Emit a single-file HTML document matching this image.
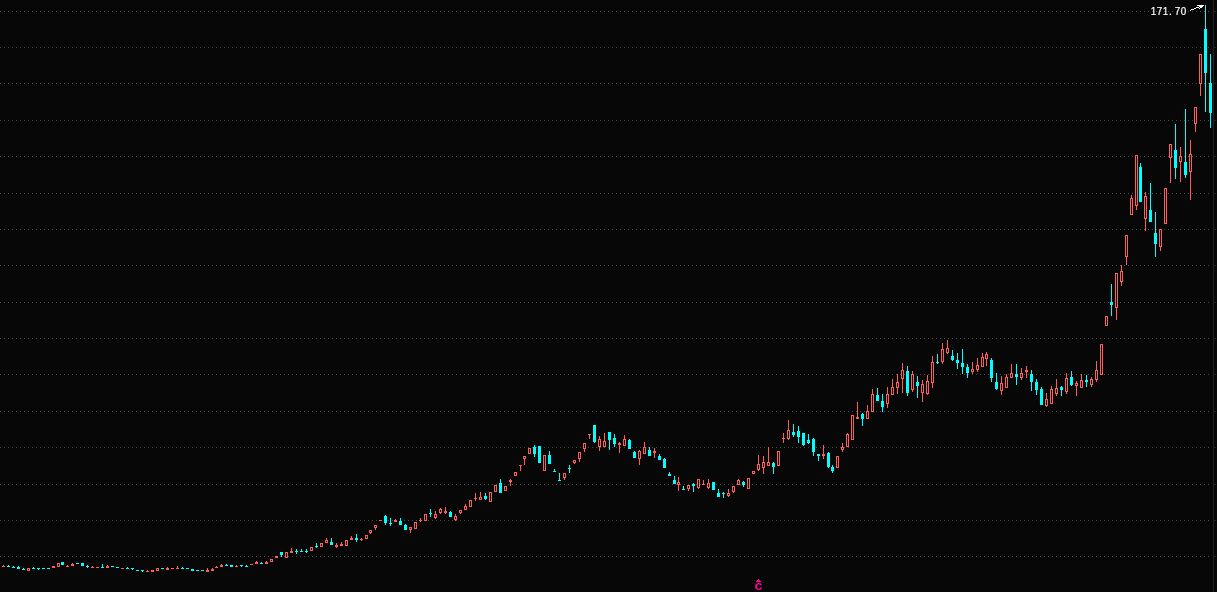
<!DOCTYPE html>
<html lang="zh-CN">
<head>
<meta charset="utf-8">
<title>K线图</title>
<style>
html,body{margin:0;padding:0;background:#070707;}
body{width:1217px;height:592px;overflow:hidden;position:relative;font-family:"Liberation Mono","Noto Sans CJK SC",monospace;}
#chart{position:absolute;left:0;top:0;width:1217px;height:592px;display:block;}
.grid line{stroke:#4c4c4c;stroke-width:1;stroke-dasharray:1 3;}
.up path{fill:#ff5c5c;}
.down path{fill:#00ffff;}
.hi-label{font-family:"Liberation Sans","Noto Sans CJK SC",sans-serif;font-size:11px;fill:#ffffff;stroke:#ffffff;stroke-width:0.2px;}
.mark{font-family:"Liberation Mono",monospace;font-weight:bold;font-size:11px;fill:#ff009c;}
</style>
</head>
<body>
<svg id="chart" width="1217" height="592" viewBox="0 0 1217 592" shape-rendering="crispEdges">
<rect width="1217" height="592" fill="#070707"/>
<g class="grid">
<line x1="0" y1="11.5" x2="1209" y2="11.5"/>
<line x1="0" y1="47.5" x2="1209" y2="47.5"/>
<line x1="0" y1="83.5" x2="1209" y2="83.5"/>
<line x1="0" y1="120.5" x2="1209" y2="120.5"/>
<line x1="0" y1="156.5" x2="1209" y2="156.5"/>
<line x1="0" y1="193.5" x2="1209" y2="193.5"/>
<line x1="0" y1="229.5" x2="1209" y2="229.5"/>
<line x1="0" y1="265.5" x2="1209" y2="265.5"/>
<line x1="0" y1="302.5" x2="1209" y2="302.5"/>
<line x1="0" y1="338.5" x2="1209" y2="338.5"/>
<line x1="0" y1="374.5" x2="1209" y2="374.5"/>
<line x1="0" y1="411.5" x2="1209" y2="411.5"/>
<line x1="0" y1="447.5" x2="1209" y2="447.5"/>
<line x1="0" y1="484.5" x2="1209" y2="484.5"/>
<line x1="0" y1="520.5" x2="1209" y2="520.5"/>
<line x1="0" y1="556.5" x2="1209" y2="556.5"/>
</g>
<g class="axis"><rect x="1213" y="0" width="1" height="592" fill="#222222"/>
<rect x="1214" y="11" width="2" height="1" fill="#222222"/>
<rect x="1214" y="47" width="2" height="1" fill="#222222"/>
<rect x="1214" y="83" width="2" height="1" fill="#222222"/>
<rect x="1214" y="120" width="2" height="1" fill="#222222"/>
<rect x="1214" y="156" width="2" height="1" fill="#222222"/>
<rect x="1214" y="193" width="2" height="1" fill="#222222"/>
<rect x="1214" y="229" width="2" height="1" fill="#222222"/>
<rect x="1214" y="265" width="2" height="1" fill="#222222"/>
<rect x="1214" y="302" width="2" height="1" fill="#222222"/>
<rect x="1214" y="338" width="2" height="1" fill="#222222"/>
<rect x="1214" y="374" width="2" height="1" fill="#222222"/>
<rect x="1214" y="411" width="2" height="1" fill="#222222"/>
<rect x="1214" y="447" width="2" height="1" fill="#222222"/>
<rect x="1214" y="484" width="2" height="1" fill="#222222"/>
<rect x="1214" y="520" width="2" height="1" fill="#222222"/>
<rect x="1214" y="556" width="2" height="1" fill="#222222"/>
</g>
<path class="hollow" fill="#070707" d="M28 569h1v1h-1zM58 564h1v2h-1zM157 569h1v1h-1zM271 560h1v1h-1zM286 553h1v4h-1zM311 548h1v2h-1zM321 544h1v2h-1zM326 541h1v1h-1zM346 541h1v4h-1zM366 536h1v2h-1zM370 531h1v1h-1zM375 526h1v1h-1zM410 528h1v1h-1zM415 523h1v5h-1zM425 515h1v5h-1zM435 515h1v2h-1zM440 510h1v2h-1zM455 517h1v2h-1zM460 511h1v1h-1zM465 507h1v2h-1zM470 501h1v5h-1zM480 498h1v1h-1zM490 493h1v8h-1zM495 486h1v5h-1zM505 487h1v3h-1zM515 473h1v2h-1zM524 457h1v1h-1zM529 449h1v4h-1zM544 456h1v14h-1zM564 474h1v3h-1zM574 461h1v1h-1zM579 453h1v5h-1zM584 444h1v4h-1zM599 440h1v6h-1zM604 442h1v4h-1zM624 440h1v5h-1zM639 452h1v6h-1zM644 448h1v5h-1zM678 483h1v1h-1zM688 486h1v2h-1zM698 480h1v7h-1zM708 484h1v3h-1zM728 494h1v1h-1zM733 487h1v4h-1zM738 481h1v3h-1zM748 479h1v9h-1zM753 472h1v1h-1zM758 465h1v4h-1zM763 463h1v4h-1zM768 463h1v2h-1zM778 452h1v13h-1zM788 431h1v7h-1zM837 457h1v10h-1zM842 448h1v1h-1zM847 435h1v11h-1zM852 416h1v23h-1zM867 412h1v6h-1zM872 395h1v16h-1zM887 395h1v8h-1zM892 388h1v6h-1zM897 383h1v4h-1zM902 371h1v7h-1zM912 375h1v14h-1zM922 385h1v7h-1zM927 382h1v11h-1zM932 363h1v19h-1zM942 350h1v11h-1zM947 349h1v3h-1zM972 370h1v1h-1zM977 366h1v3h-1zM982 358h1v8h-1zM986 355h1v3h-1zM1001 384h1v6h-1zM1006 378h1v9h-1zM1011 374h1v3h-1zM1021 374h1v3h-1zM1046 400h1v5h-1zM1051 390h1v13h-1zM1056 389h1v4h-1zM1066 379h1v12h-1zM1076 384h1v1h-1zM1081 381h1v6h-1zM1091 380h1v4h-1zM1096 371h1v8h-1zM1101 345h1v29h-1zM1106 317h1v8h-1zM1116 274h1v33h-1zM1121 272h1v9h-1zM1126 236h1v20h-1zM1131 199h1v15h-1zM1136 156h1v49h-1zM1145 197h1v21h-1zM1160 230h1v16h-1zM1165 189h1v34h-1zM1170 145h1v12h-1zM1180 157h1v4h-1zM1190 155h1v16h-1zM1195 108h1v15h-1zM1200 55h1v28h-1z"/>
<g class="up">
<path d="M3 565h1v1h-1zM2 566h3v1h-3z"/>
<path d="M27 568h3v1h-3zM27 570h3v1h-3zM27 569h1v1h-1zM29 569h1v1h-1z"/>
<path d="M52 566h3v2h-3z"/>
<path d="M57 563h3v1h-3zM57 566h3v1h-3zM57 564h1v2h-1zM59 564h1v2h-1z"/>
<path d="M67 565h1v1h-1zM66 566h3v1h-3z"/>
<path d="M72 563h1v1h-1zM71 564h3v2h-3z"/>
<path d="M92 566h1v1h-1zM91 567h3v1h-3z"/>
<path d="M96 567h3v1h-3z"/>
<path d="M107 565h1v1h-1zM106 566h3v2h-3z"/>
<path d="M121 568h3v1h-3z"/>
<path d="M147 570h1v1h-1zM146 571h3v1h-3z"/>
<path d="M151 570h3v2h-3z"/>
<path d="M156 568h3v1h-3zM156 570h3v1h-3zM156 569h1v1h-1zM158 569h1v1h-1z"/>
<path d="M167 567h1v1h-1zM166 568h3v2h-3z"/>
<path d="M171 568h3v1h-3z"/>
<path d="M177 566h1v2h-1zM176 568h3v1h-3z"/>
<path d="M207 568h1v2h-1zM206 570h3v2h-3z"/>
<path d="M212 568h1v1h-1zM211 569h3v2h-3z"/>
<path d="M216 566h1v1h-1zM215 567h3v1h-3z"/>
<path d="M221 564h1v1h-1zM220 565h3v2h-3z"/>
<path d="M236 565h1v1h-1zM235 566h3v1h-3z"/>
<path d="M250 564h3v1h-3z"/>
<path d="M256 561h1v1h-1zM255 562h3v2h-3z"/>
<path d="M266 561h1v1h-1zM265 562h3v2h-3z"/>
<path d="M270 559h3v1h-3zM270 561h3v1h-3zM270 560h1v1h-1zM272 560h1v1h-1z"/>
<path d="M275 556h3v2h-3z"/>
<path d="M285 552h3v1h-3zM285 557h3v1h-3zM285 553h1v4h-1zM287 553h1v4h-1z"/>
<path d="M291 548h1v3h-1zM290 551h3v2h-3z"/>
<path d="M310 547h3v1h-3zM310 550h3v1h-3zM310 548h1v2h-1zM312 548h1v2h-1z"/>
<path d="M320 543h3v1h-3zM320 546h3v1h-3zM320 544h1v2h-1zM322 544h1v2h-1z"/>
<path d="M326 538h1v2h-1zM325 540h3v1h-3zM325 542h3v1h-3zM325 541h1v1h-1zM327 541h1v1h-1z"/>
<path d="M336 543h1v2h-1zM336 547h1v1h-1zM335 545h3v2h-3z"/>
<path d="M341 542h1v2h-1zM340 544h3v2h-3z"/>
<path d="M345 540h3v1h-3zM345 545h3v1h-3zM345 541h1v4h-1zM347 541h1v4h-1z"/>
<path d="M351 536h1v2h-1zM350 538h3v2h-3z"/>
<path d="M361 538h1v1h-1zM361 540h1v1h-1zM360 539h3v1h-3z"/>
<path d="M365 535h3v1h-3zM365 538h3v1h-3zM365 536h1v2h-1zM367 536h1v2h-1z"/>
<path d="M370 533h1v1h-1zM369 530h3v1h-3zM369 532h3v1h-3zM369 531h1v1h-1zM371 531h1v1h-1z"/>
<path d="M375 528h1v2h-1zM374 525h3v1h-3zM374 527h3v1h-3zM374 526h1v1h-1zM376 526h1v1h-1z"/>
<path d="M379 520h3v1h-3z"/>
<path d="M395 519h1v1h-1zM394 520h3v2h-3z"/>
<path d="M410 530h1v3h-1zM409 527h3v1h-3zM409 529h3v1h-3zM409 528h1v1h-1zM411 528h1v1h-1z"/>
<path d="M414 522h3v1h-3zM414 528h3v1h-3zM414 523h1v5h-1zM416 523h1v5h-1z"/>
<path d="M420 518h1v2h-1zM420 521h1v1h-1zM419 520h3v1h-3z"/>
<path d="M424 514h3v1h-3zM424 520h3v1h-3zM424 515h1v5h-1zM426 515h1v5h-1z"/>
<path d="M435 511h1v3h-1zM435 518h1v1h-1zM434 514h3v1h-3zM434 517h3v1h-3zM434 515h1v2h-1zM436 515h1v2h-1z"/>
<path d="M440 508h1v1h-1zM440 513h1v1h-1zM439 509h3v1h-3zM439 512h3v1h-3zM439 510h1v2h-1zM441 510h1v2h-1z"/>
<path d="M445 507h1v4h-1zM445 513h1v1h-1zM444 511h3v2h-3z"/>
<path d="M455 514h1v2h-1zM455 520h1v1h-1zM454 516h3v1h-3zM454 519h3v1h-3zM454 517h1v2h-1zM456 517h1v2h-1z"/>
<path d="M460 513h1v1h-1zM459 510h3v1h-3zM459 512h3v1h-3zM459 511h1v1h-1zM461 511h1v1h-1z"/>
<path d="M465 504h1v2h-1zM464 506h3v1h-3zM464 509h3v1h-3zM464 507h1v2h-1zM466 507h1v2h-1z"/>
<path d="M469 500h3v1h-3zM469 506h3v1h-3zM469 501h1v5h-1zM471 501h1v5h-1z"/>
<path d="M475 493h1v5h-1zM475 499h1v2h-1zM474 498h3v1h-3z"/>
<path d="M480 492h1v5h-1zM479 497h3v1h-3zM479 499h3v1h-3zM479 498h1v1h-1zM481 498h1v1h-1z"/>
<path d="M489 492h3v1h-3zM489 501h3v1h-3zM489 493h1v8h-1zM491 493h1v8h-1z"/>
<path d="M494 485h3v1h-3zM494 491h3v1h-3zM494 486h1v5h-1zM496 486h1v5h-1z"/>
<path d="M504 486h3v1h-3zM504 490h3v1h-3zM504 487h1v3h-1zM506 487h1v3h-1z"/>
<path d="M510 479h1v1h-1zM510 482h1v4h-1zM509 480h3v2h-3z"/>
<path d="M514 472h3v1h-3zM514 475h3v1h-3zM514 473h1v2h-1zM516 473h1v2h-1z"/>
<path d="M520 466h1v5h-1zM519 465h3v1h-3z"/>
<path d="M524 459h1v6h-1zM523 456h3v1h-3zM523 458h3v1h-3zM523 457h1v1h-1zM525 457h1v1h-1z"/>
<path d="M528 448h3v1h-3zM528 453h3v1h-3zM528 449h1v4h-1zM530 449h1v4h-1z"/>
<path d="M543 455h3v1h-3zM543 470h3v1h-3zM543 456h1v14h-1zM545 456h1v14h-1z"/>
<path d="M564 478h1v2h-1zM563 473h3v1h-3zM563 477h3v1h-3zM563 474h1v3h-1zM565 474h1v3h-1z"/>
<path d="M574 463h1v1h-1zM573 460h3v1h-3zM573 462h3v1h-3zM573 461h1v1h-1zM575 461h1v1h-1z"/>
<path d="M579 459h1v3h-1zM578 452h3v1h-3zM578 458h3v1h-3zM578 453h1v5h-1zM580 453h1v5h-1z"/>
<path d="M584 449h1v3h-1zM583 443h3v1h-3zM583 448h3v1h-3zM583 444h1v4h-1zM585 444h1v4h-1z"/>
<path d="M589 435h1v4h-1zM588 434h3v1h-3z"/>
<path d="M599 436h1v3h-1zM599 447h1v4h-1zM598 439h3v1h-3zM598 446h3v1h-3zM598 440h1v6h-1zM600 440h1v6h-1z"/>
<path d="M604 433h1v8h-1zM603 441h3v1h-3zM603 446h3v1h-3zM603 442h1v4h-1zM605 442h1v4h-1z"/>
<path d="M619 442h1v1h-1zM619 445h1v8h-1zM618 443h3v2h-3z"/>
<path d="M624 435h1v4h-1zM623 439h3v1h-3zM623 445h3v1h-3zM623 440h1v5h-1zM625 440h1v5h-1z"/>
<path d="M639 450h1v1h-1zM639 459h1v6h-1zM638 451h3v1h-3zM638 458h3v1h-3zM638 452h1v6h-1zM640 452h1v6h-1z"/>
<path d="M644 442h1v5h-1zM643 447h3v1h-3zM643 453h3v1h-3zM643 448h1v5h-1zM645 448h1v5h-1z"/>
<path d="M654 448h1v3h-1zM654 453h1v5h-1zM653 451h3v2h-3z"/>
<path d="M678 477h1v5h-1zM678 485h1v6h-1zM677 482h3v1h-3zM677 484h3v1h-3zM677 483h1v1h-1zM679 483h1v1h-1z"/>
<path d="M688 489h1v2h-1zM687 485h3v1h-3zM687 488h3v1h-3zM687 486h1v2h-1zM689 486h1v2h-1z"/>
<path d="M698 488h1v1h-1zM697 479h3v1h-3zM697 487h3v1h-3zM697 480h1v7h-1zM699 480h1v7h-1z"/>
<path d="M703 480h1v4h-1zM702 484h3v1h-3z"/>
<path d="M708 479h1v4h-1zM708 488h1v1h-1zM707 483h3v1h-3zM707 487h3v1h-3zM707 484h1v3h-1zM709 484h1v3h-1z"/>
<path d="M728 489h1v4h-1zM728 496h1v1h-1zM727 493h3v1h-3zM727 495h3v1h-3zM727 494h1v1h-1zM729 494h1v1h-1z"/>
<path d="M733 492h1v1h-1zM732 486h3v1h-3zM732 491h3v1h-3zM732 487h1v4h-1zM734 487h1v4h-1z"/>
<path d="M738 479h1v1h-1zM737 480h3v1h-3zM737 484h3v1h-3zM737 481h1v3h-1zM739 481h1v3h-1z"/>
<path d="M747 478h3v1h-3zM747 488h3v1h-3zM747 479h1v9h-1zM749 479h1v9h-1z"/>
<path d="M752 471h3v1h-3zM752 473h3v1h-3zM752 472h1v1h-1zM754 472h1v1h-1z"/>
<path d="M758 455h1v9h-1zM758 470h1v1h-1zM757 464h3v1h-3zM757 469h3v1h-3zM757 465h1v4h-1zM759 465h1v4h-1z"/>
<path d="M763 456h1v6h-1zM763 468h1v6h-1zM762 462h3v1h-3zM762 467h3v1h-3zM762 463h1v4h-1zM764 463h1v4h-1z"/>
<path d="M768 447h1v15h-1zM767 462h3v1h-3zM767 465h3v1h-3zM767 463h1v2h-1zM769 463h1v2h-1z"/>
<path d="M777 451h3v1h-3zM777 465h3v1h-3zM777 452h1v13h-1zM779 452h1v13h-1z"/>
<path d="M783 433h1v5h-1zM783 439h1v4h-1zM782 438h3v1h-3z"/>
<path d="M788 420h1v10h-1zM788 439h1v1h-1zM787 430h3v1h-3zM787 438h3v1h-3zM787 431h1v7h-1zM789 431h1v7h-1z"/>
<path d="M823 445h1v9h-1zM823 456h1v3h-1zM822 454h3v2h-3z"/>
<path d="M836 456h3v1h-3zM836 467h3v1h-3zM836 457h1v10h-1zM838 457h1v10h-1z"/>
<path d="M842 443h1v4h-1zM842 450h1v2h-1zM841 447h3v1h-3zM841 449h3v1h-3zM841 448h1v1h-1zM843 448h1v1h-1z"/>
<path d="M847 433h1v1h-1zM846 434h3v1h-3zM846 446h3v1h-3zM846 435h1v11h-1zM848 435h1v11h-1z"/>
<path d="M851 415h3v1h-3zM851 439h3v1h-3zM851 416h1v23h-1zM853 416h1v23h-1z"/>
<path d="M857 402h1v15h-1zM856 417h3v2h-3z"/>
<path d="M867 405h1v6h-1zM866 411h3v1h-3zM866 418h3v1h-3zM866 412h1v6h-1zM868 412h1v6h-1z"/>
<path d="M872 389h1v5h-1zM871 394h3v1h-3zM871 411h3v1h-3zM871 395h1v16h-1zM873 395h1v16h-1z"/>
<path d="M887 387h1v7h-1zM887 404h1v4h-1zM886 394h3v1h-3zM886 403h3v1h-3zM886 395h1v8h-1zM888 395h1v8h-1z"/>
<path d="M892 379h1v8h-1zM891 387h3v1h-3zM891 394h3v1h-3zM891 388h1v6h-1zM893 388h1v6h-1z"/>
<path d="M897 374h1v8h-1zM897 388h1v6h-1zM896 382h3v1h-3zM896 387h3v1h-3zM896 383h1v4h-1zM898 383h1v4h-1z"/>
<path d="M902 363h1v7h-1zM902 379h1v14h-1zM901 370h3v1h-3zM901 378h3v1h-3zM901 371h1v7h-1zM903 371h1v7h-1z"/>
<path d="M912 371h1v3h-1zM912 390h1v2h-1zM911 374h3v1h-3zM911 389h3v1h-3zM911 375h1v14h-1zM913 375h1v14h-1z"/>
<path d="M922 380h1v4h-1zM922 393h1v9h-1zM921 384h3v1h-3zM921 392h3v1h-3zM921 385h1v7h-1zM923 385h1v7h-1z"/>
<path d="M927 375h1v6h-1zM927 394h1v1h-1zM926 381h3v1h-3zM926 393h3v1h-3zM926 382h1v11h-1zM928 382h1v11h-1z"/>
<path d="M932 356h1v6h-1zM932 383h1v5h-1zM931 362h3v1h-3zM931 382h3v1h-3zM931 363h1v19h-1zM933 363h1v19h-1z"/>
<path d="M942 343h1v6h-1zM942 362h1v2h-1zM941 349h3v1h-3zM941 361h3v1h-3zM941 350h1v11h-1zM943 350h1v11h-1z"/>
<path d="M947 340h1v8h-1zM947 353h1v1h-1zM946 348h3v1h-3zM946 352h3v1h-3zM946 349h1v3h-1zM948 349h1v3h-1z"/>
<path d="M972 362h1v7h-1zM972 372h1v2h-1zM971 369h3v1h-3zM971 371h3v1h-3zM971 370h1v1h-1zM973 370h1v1h-1z"/>
<path d="M977 358h1v7h-1zM977 370h1v2h-1zM976 365h3v1h-3zM976 369h3v1h-3zM976 366h1v3h-1zM978 366h1v3h-1z"/>
<path d="M982 353h1v4h-1zM981 357h3v1h-3zM981 366h3v1h-3zM981 358h1v8h-1zM983 358h1v8h-1z"/>
<path d="M986 352h1v2h-1zM986 359h1v7h-1zM985 354h3v1h-3zM985 358h3v1h-3zM985 355h1v3h-1zM987 355h1v3h-1z"/>
<path d="M1001 376h1v7h-1zM1001 391h1v4h-1zM1000 383h3v1h-3zM1000 390h3v1h-3zM1000 384h1v6h-1zM1002 384h1v6h-1z"/>
<path d="M1006 374h1v3h-1zM1005 377h3v1h-3zM1005 387h3v1h-3zM1005 378h1v9h-1zM1007 378h1v9h-1z"/>
<path d="M1011 364h1v9h-1zM1010 373h3v1h-3zM1010 377h3v1h-3zM1010 374h1v3h-1zM1012 374h1v3h-1z"/>
<path d="M1021 368h1v5h-1zM1021 378h1v2h-1zM1020 373h3v1h-3zM1020 377h3v1h-3zM1020 374h1v3h-1zM1022 374h1v3h-1z"/>
<path d="M1026 366h1v4h-1zM1026 372h1v6h-1zM1025 370h3v2h-3z"/>
<path d="M1046 393h1v6h-1zM1046 406h1v1h-1zM1045 399h3v1h-3zM1045 405h3v1h-3zM1045 400h1v5h-1zM1047 400h1v5h-1z"/>
<path d="M1051 386h1v3h-1zM1050 389h3v1h-3zM1050 403h3v1h-3zM1050 390h1v13h-1zM1052 390h1v13h-1z"/>
<path d="M1056 379h1v9h-1zM1056 394h1v2h-1zM1055 388h3v1h-3zM1055 393h3v1h-3zM1055 389h1v4h-1zM1057 389h1v4h-1z"/>
<path d="M1066 373h1v5h-1zM1066 392h1v2h-1zM1065 378h3v1h-3zM1065 391h3v1h-3zM1065 379h1v12h-1zM1067 379h1v12h-1z"/>
<path d="M1076 381h1v2h-1zM1076 386h1v10h-1zM1075 383h3v1h-3zM1075 385h3v1h-3zM1075 384h1v1h-1zM1077 384h1v1h-1z"/>
<path d="M1081 374h1v6h-1zM1080 380h3v1h-3zM1080 387h3v1h-3zM1080 381h1v6h-1zM1082 381h1v6h-1z"/>
<path d="M1091 377h1v2h-1zM1091 385h1v2h-1zM1090 379h3v1h-3zM1090 384h3v1h-3zM1090 380h1v4h-1zM1092 380h1v4h-1z"/>
<path d="M1096 361h1v9h-1zM1096 380h1v2h-1zM1095 370h3v1h-3zM1095 379h3v1h-3zM1095 371h1v8h-1zM1097 371h1v8h-1z"/>
<path d="M1100 344h3v1h-3zM1100 374h3v1h-3zM1100 345h1v29h-1zM1102 345h1v29h-1z"/>
<path d="M1105 316h3v1h-3zM1105 325h3v1h-3zM1105 317h1v8h-1zM1107 317h1v8h-1z"/>
<path d="M1116 308h1v12h-1zM1115 273h3v1h-3zM1115 307h3v1h-3zM1115 274h1v33h-1zM1117 274h1v33h-1z"/>
<path d="M1121 265h1v6h-1zM1121 282h1v4h-1zM1120 271h3v1h-3zM1120 281h3v1h-3zM1120 272h1v9h-1zM1122 272h1v9h-1z"/>
<path d="M1126 257h1v8h-1zM1125 235h3v1h-3zM1125 256h3v1h-3zM1125 236h1v20h-1zM1127 236h1v20h-1z"/>
<path d="M1131 195h1v3h-1zM1130 198h3v1h-3zM1130 214h3v1h-3zM1130 199h1v15h-1zM1132 199h1v15h-1z"/>
<path d="M1136 206h1v4h-1zM1135 155h3v1h-3zM1135 205h3v1h-3zM1135 156h1v49h-1zM1137 156h1v49h-1z"/>
<path d="M1145 192h1v4h-1zM1145 219h1v12h-1zM1144 196h3v1h-3zM1144 218h3v1h-3zM1144 197h1v21h-1zM1146 197h1v21h-1z"/>
<path d="M1160 247h1v4h-1zM1159 229h3v1h-3zM1159 246h3v1h-3zM1159 230h1v16h-1zM1161 230h1v16h-1z"/>
<path d="M1164 188h3v1h-3zM1164 223h3v1h-3zM1164 189h1v34h-1zM1166 189h1v34h-1z"/>
<path d="M1170 158h1v25h-1zM1169 144h3v1h-3zM1169 157h3v1h-3zM1169 145h1v12h-1zM1171 145h1v12h-1z"/>
<path d="M1180 147h1v9h-1zM1180 162h1v20h-1zM1179 156h3v1h-3zM1179 161h3v1h-3zM1179 157h1v4h-1zM1181 157h1v4h-1z"/>
<path d="M1190 140h1v14h-1zM1190 172h1v28h-1zM1189 154h3v1h-3zM1189 171h3v1h-3zM1189 155h1v16h-1zM1191 155h1v16h-1z"/>
<path d="M1195 124h1v8h-1zM1194 107h3v1h-3zM1194 123h3v1h-3zM1194 108h1v15h-1zM1196 108h1v15h-1z"/>
<path d="M1200 84h1v12h-1zM1199 54h3v1h-3zM1199 83h3v1h-3zM1199 55h1v28h-1zM1201 55h1v28h-1z"/>
</g>
<g class="down">
<path d="M8 565h1v2h-1zM7 566h3v1h-3z"/>
<path d="M13 566h1v2h-1zM12 567h3v1h-3z"/>
<path d="M18 566h1v3h-1zM17 567h3v2h-3z"/>
<path d="M23 568h1v2h-1zM22 569h3v1h-3z"/>
<path d="M33 567h1v2h-1zM32 568h3v1h-3z"/>
<path d="M38 568h1v2h-1zM37 568h3v1h-3z"/>
<path d="M43 568h1v1h-1zM42 568h3v1h-3z"/>
<path d="M48 568h1v1h-1zM47 568h3v1h-3z"/>
<path d="M62 562h1v3h-1zM61 562h3v3h-3z"/>
<path d="M77 563h1v1h-1zM76 563h3v1h-3z"/>
<path d="M82 563h1v3h-1zM81 563h3v3h-3z"/>
<path d="M87 565h1v3h-1zM86 566h3v1h-3z"/>
<path d="M102 564h1v4h-1zM101 567h3v1h-3z"/>
<path d="M112 566h1v1h-1zM111 566h3v1h-3z"/>
<path d="M117 567h1v1h-1zM116 567h3v1h-3z"/>
<path d="M127 567h1v2h-1zM126 568h3v1h-3z"/>
<path d="M132 568h1v2h-1zM131 568h3v1h-3z"/>
<path d="M137 570h1v1h-1zM136 570h3v1h-3z"/>
<path d="M142 570h1v2h-1zM141 570h3v1h-3z"/>
<path d="M162 568h1v1h-1zM161 568h3v1h-3z"/>
<path d="M182 567h1v2h-1zM181 568h3v1h-3z"/>
<path d="M187 568h1v1h-1zM186 568h3v1h-3z"/>
<path d="M192 569h1v2h-1zM191 569h3v2h-3z"/>
<path d="M197 570h1v1h-1zM196 570h3v1h-3z"/>
<path d="M202 570h1v1h-1zM201 570h3v1h-3z"/>
<path d="M226 564h1v2h-1zM225 565h3v1h-3z"/>
<path d="M231 565h1v2h-1zM230 565h3v2h-3z"/>
<path d="M241 565h1v2h-1zM240 565h3v1h-3z"/>
<path d="M246 565h1v2h-1zM245 566h3v1h-3z"/>
<path d="M261 562h1v2h-1zM260 563h3v1h-3z"/>
<path d="M281 552h1v5h-1zM280 552h3v3h-3z"/>
<path d="M296 549h1v5h-1zM295 551h3v1h-3z"/>
<path d="M301 549h1v3h-1zM300 551h3v1h-3z"/>
<path d="M306 549h1v4h-1zM305 551h3v1h-3z"/>
<path d="M316 543h1v5h-1zM315 546h3v1h-3z"/>
<path d="M331 538h1v7h-1zM330 542h3v3h-3z"/>
<path d="M356 534h1v8h-1zM355 538h3v2h-3z"/>
<path d="M385 515h1v10h-1zM384 516h3v7h-3z"/>
<path d="M390 518h1v8h-1zM389 523h3v1h-3z"/>
<path d="M400 518h1v7h-1zM399 521h3v4h-3z"/>
<path d="M405 524h1v6h-1zM404 525h3v5h-3z"/>
<path d="M430 509h1v8h-1zM429 513h3v1h-3z"/>
<path d="M450 511h1v6h-1zM449 512h3v5h-3z"/>
<path d="M485 493h1v7h-1zM484 496h3v3h-3z"/>
<path d="M500 479h1v14h-1zM499 483h3v10h-3z"/>
<path d="M534 445h1v12h-1zM533 447h3v7h-3z"/>
<path d="M539 446h1v17h-1zM538 446h3v17h-3z"/>
<path d="M549 451h1v13h-1zM548 455h3v9h-3z"/>
<path d="M554 469h1v3h-1zM553 471h3v1h-3z"/>
<path d="M559 473h1v8h-1zM558 480h3v1h-3z"/>
<path d="M569 465h1v8h-1zM568 468h3v1h-3z"/>
<path d="M594 425h1v18h-1zM593 425h3v17h-3z"/>
<path d="M609 432h1v18h-1zM608 432h3v8h-3z"/>
<path d="M614 434h1v13h-1zM613 438h3v6h-3z"/>
<path d="M629 439h1v10h-1zM628 440h3v9h-3z"/>
<path d="M634 451h1v7h-1zM633 452h3v6h-3z"/>
<path d="M649 447h1v9h-1zM648 450h3v6h-3z"/>
<path d="M659 454h1v6h-1zM658 456h3v4h-3z"/>
<path d="M664 458h1v10h-1zM663 459h3v9h-3z"/>
<path d="M669 472h1v4h-1zM668 474h3v2h-3z"/>
<path d="M674 476h1v8h-1zM673 480h3v4h-3z"/>
<path d="M683 486h1v4h-1zM682 489h3v1h-3z"/>
<path d="M693 483h1v9h-1zM692 484h3v2h-3z"/>
<path d="M713 482h1v8h-1zM712 482h3v8h-3z"/>
<path d="M718 489h1v8h-1zM717 493h3v4h-3z"/>
<path d="M723 492h1v6h-1zM722 493h3v1h-3z"/>
<path d="M743 481h1v6h-1zM742 482h3v3h-3z"/>
<path d="M773 462h1v12h-1zM772 463h3v4h-3z"/>
<path d="M793 424h1v13h-1zM792 432h3v3h-3z"/>
<path d="M798 426h1v17h-1zM797 431h3v6h-3z"/>
<path d="M803 433h1v13h-1zM802 433h3v12h-3z"/>
<path d="M808 434h1v10h-1zM807 440h3v3h-3z"/>
<path d="M813 438h1v18h-1zM812 439h3v13h-3z"/>
<path d="M818 454h1v7h-1zM817 454h3v2h-3z"/>
<path d="M828 452h1v16h-1zM827 453h3v14h-3z"/>
<path d="M832 465h1v8h-1zM831 467h3v4h-3z"/>
<path d="M862 413h1v13h-1zM861 414h3v5h-3z"/>
<path d="M877 388h1v13h-1zM876 395h3v6h-3z"/>
<path d="M882 394h1v18h-1zM881 401h3v6h-3z"/>
<path d="M907 366h1v30h-1zM906 371h3v22h-3z"/>
<path d="M917 376h1v22h-1zM916 382h3v4h-3z"/>
<path d="M937 354h1v10h-1zM936 362h3v1h-3z"/>
<path d="M952 350h1v11h-1zM951 356h3v4h-3z"/>
<path d="M957 353h1v16h-1zM956 360h3v3h-3z"/>
<path d="M962 349h1v25h-1zM961 363h3v4h-3z"/>
<path d="M967 364h1v14h-1zM966 367h3v6h-3z"/>
<path d="M991 358h1v24h-1zM990 360h3v18h-3z"/>
<path d="M996 373h1v17h-1zM995 382h3v7h-3z"/>
<path d="M1016 364h1v21h-1zM1015 374h3v3h-3z"/>
<path d="M1031 370h1v21h-1zM1030 374h3v8h-3z"/>
<path d="M1036 379h1v16h-1zM1035 382h3v8h-3z"/>
<path d="M1041 387h1v18h-1zM1040 389h3v16h-3z"/>
<path d="M1061 386h1v10h-1zM1060 387h3v3h-3z"/>
<path d="M1071 371h1v15h-1zM1070 377h3v8h-3z"/>
<path d="M1086 375h1v12h-1zM1085 380h3v2h-3z"/>
<path d="M1111 284h1v32h-1zM1110 302h3v3h-3z"/>
<path d="M1140 163h1v39h-1zM1139 167h3v35h-3z"/>
<path d="M1150 183h1v39h-1zM1149 210h3v12h-3z"/>
<path d="M1155 212h1v45h-1zM1154 233h3v11h-3z"/>
<path d="M1175 124h1v55h-1zM1174 150h3v18h-3z"/>
<path d="M1185 109h1v69h-1zM1184 162h3v13h-3z"/>
<path d="M1205 5h1v107h-1zM1204 29h3v44h-3z"/>
<path d="M1210 54h1v74h-1zM1209 83h3v30h-3z"/>
</g>
<g class="arrow" fill="#ffffff">
<rect x="1197" y="5" width="7" height="1"/>
<rect x="1199" y="6" width="4" height="1"/>
<rect x="1196" y="7" width="3" height="1"/>
<rect x="1200" y="7" width="2" height="1"/>
<rect x="1194" y="8" width="2" height="1"/>
<rect x="1199" y="8" width="1" height="1"/>
<rect x="1191" y="9" width="3" height="1"/>
<rect x="1190" y="10" width="1" height="1"/>
</g>
<text class="hi-label" transform="translate(1150.4,15) scale(0.9,1)" x="0.27 6.94 13.6 20.7 26.94 33.6" y="0">171.70</text>
<g class="marker"><path d="M758 579h1v1h-1zM757 580h3v1h-3zM756 581h5v1h-5z" fill="#ff009c"/>
<text class="mark" transform="translate(754.6,590) scale(1.25,1)">C</text></g>
</svg>
</body>
</html>
